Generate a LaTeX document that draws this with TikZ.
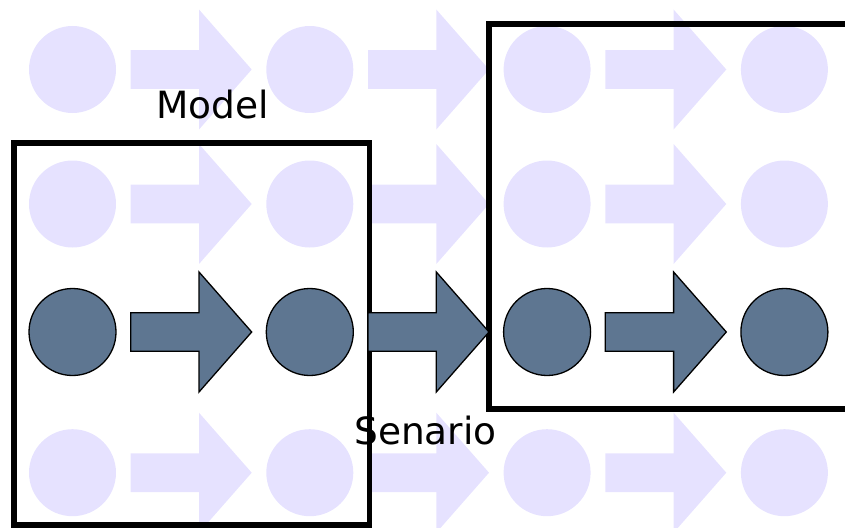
\documentclass[tikz,border=0pt]{standalone}
\usepackage{fontspec}
\setmainfont{DejaVu Sans}
\definecolor{lightv}{RGB}{230,226,255}
\definecolor{slate}{RGB}{94,118,145}
\begin{document}
\begin{tikzpicture}[x=1pt,y=-1pt,
  lightc/.style={circle,fill=lightv,draw=none,minimum size=87pt,inner sep=0pt},
  darkc/.style={circle,fill=slate,draw=black,line width=1.3pt,minimum size=87pt,inner sep=0pt},
  lighta/.style={fill=lightv,draw=none},
  darka/.style={fill=slate,draw=black,line width=1.3pt,line join=miter},
  framebox/.style={draw=black,line width=5.5pt,fill=none},
  lbl/.style={anchor=base west,inner sep=0pt,font=\fontsize{37.5}{40}\selectfont},
  barrow/.pic={\path[pic actions] (0,-19.3) -- (68.3,-19.3) -- (68.3,-60) -- (121,0) -- (68.3,60) -- (68.3,19.3) -- (0,19.3) -- cycle;}
]
\useasboundingbox (0,0) rectangle (845,527);
% light rows
\foreach \r/\y in {1/69.5,2/204,4/472.7}{
  \foreach \c/\x in {1/72.5,2/309.8,3/547.1,4/784.4}{
    \node[lightc] (c\r\c) at (\x,\y) {};
  }
  \foreach \a/\x in {1/130.7,2/368,3/605.3}{
    \pic[lighta] (a\r\a) at (\x,\y) {barrow};
  }
}
% frames
\draw[framebox] (14,143) rectangle (369.5,525);
\draw[framebox] (489,24) rectangle (860,409);
% dark row
\foreach \c/\x in {1/72.5,2/309.8,3/547.1,4/784.4}{
  \node[darkc] (d\c) at (\x,332) {};
}
\foreach \a/\x in {1/130.7,2/368,3/605.3}{
  \pic[darka] (da\a) at (\x,332) {barrow};
}
% labels
\node[lbl] (model) at (156,118.3) {Model};
\node[lbl] (senario) at (354,444.3) {Senario};
\end{tikzpicture}
\end{document}
